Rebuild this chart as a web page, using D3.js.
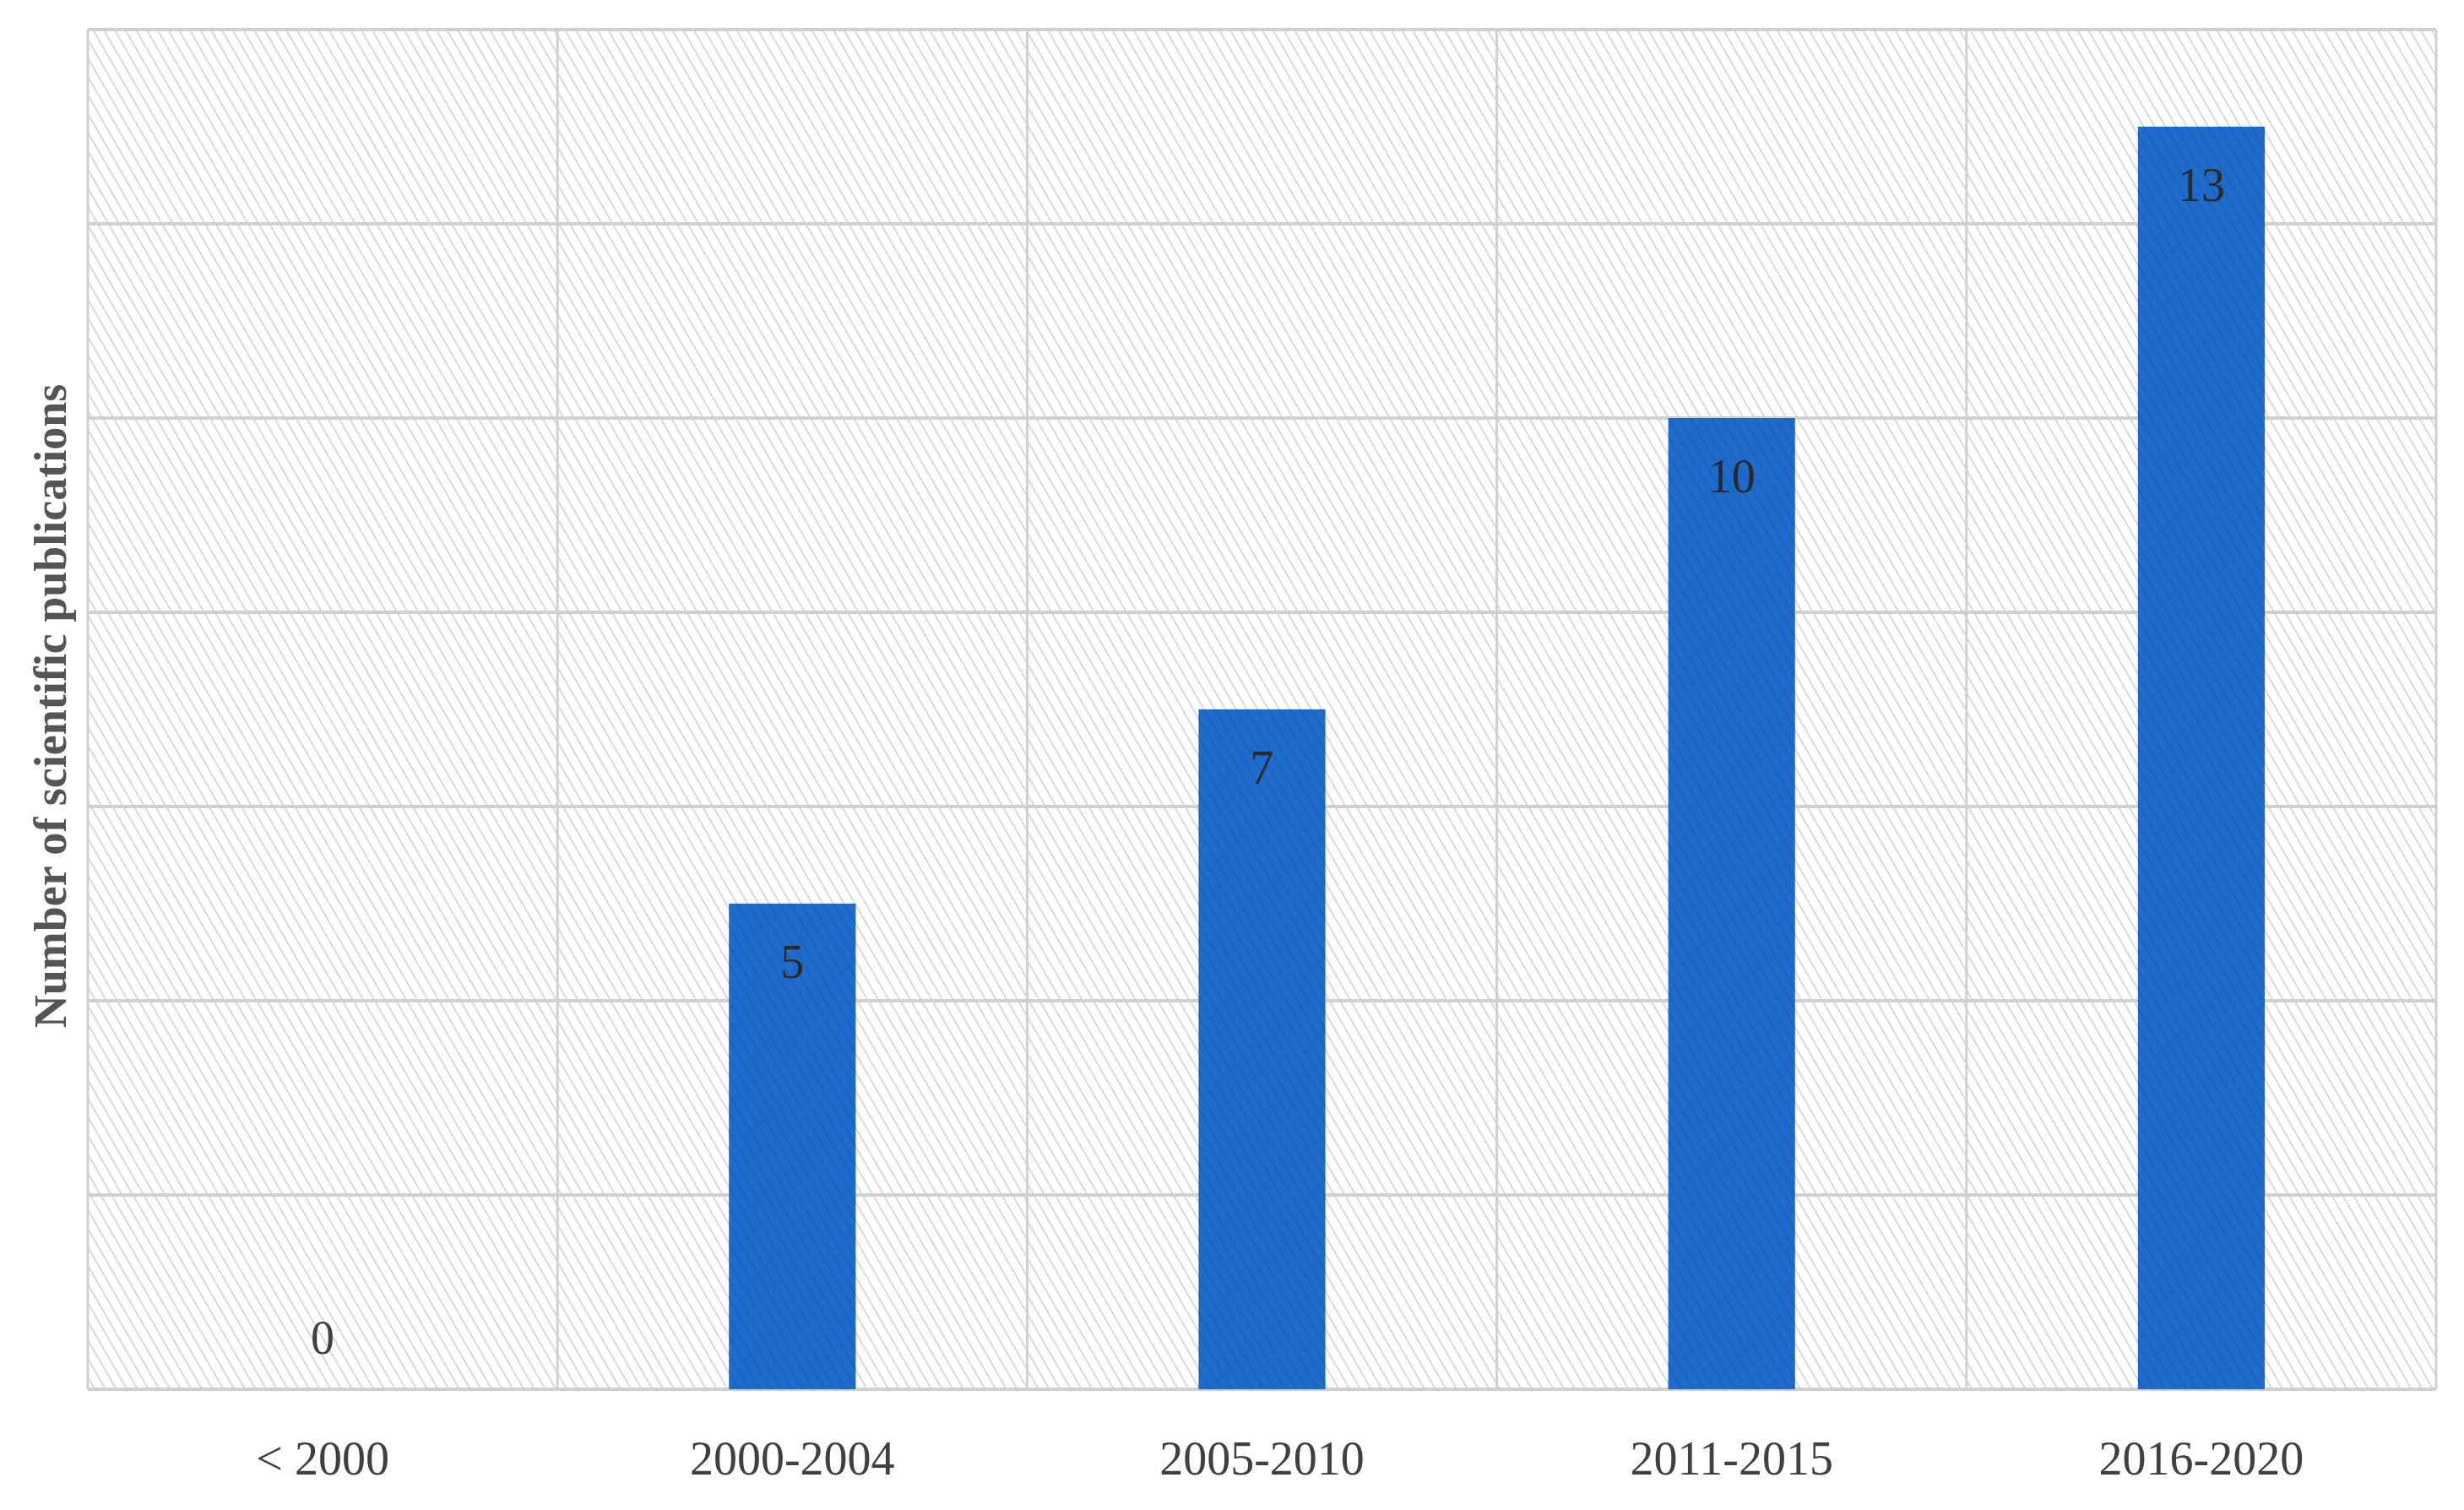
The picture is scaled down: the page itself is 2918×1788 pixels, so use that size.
<!DOCTYPE html>
<html>
<head>
<meta charset="utf-8">
<script src="https://cdn.jsdelivr.net/npm/d3@7"></script>
<style>
  body { margin: 0; background: #fff; }
  text { font-family: "Liberation Serif", "DejaVu Serif", serif; fill: #404040; }
</style>
</head>
<body>
<script>
// Publication counts per period
let categories = ['< 2000', '2000-2004', '2005-2010', '2011-2015', '2016-2020'];
let values = [0, 5, 7, 10, 13];
let yTicks = [0, 2, 4, 6, 8, 10, 12, 14];

let width = 2918;
let height = 1788;
let margin = {left: 104, right: 2918 - 2885, top: 35, bottom: 1788 - 1645};

let svg = d3.select('body').append('svg')
		.attr('width', width)
		.attr('height', height);

let defs = svg.append('defs');

// light diagonal hatch for the plot area
let hatch = defs.append('pattern')
		.attr('id', 'hatch')
		.attr('patternUnits', 'userSpaceOnUse')
		.attr('width', 11)
		.attr('height', 11)
		.attr('patternTransform', 'rotate(-30)');
hatch.append('rect').attr('width', 11).attr('height', 11).attr('fill', '#fff');
hatch.append('line')
		.attr('x1', 0).attr('y1', 0).attr('x2', 0).attr('y2', 11)
		.attr('stroke', '#c9cfcc').attr('stroke-width', 3);

// hatch over the blue bars
let barHatch = defs.append('pattern')
		.attr('id', 'barHatch')
		.attr('patternUnits', 'userSpaceOnUse')
		.attr('width', 11)
		.attr('height', 11)
		.attr('patternTransform', 'rotate(-30)');
barHatch.append('rect').attr('width', 11).attr('height', 11).attr('fill', '#1f6bcb');
barHatch.append('line')
		.attr('x1', 0).attr('y1', 0).attr('x2', 0).attr('y2', 11)
		.attr('stroke', '#1a5fb8').attr('stroke-width', 3);

let x = d3.scaleBand()
		.domain(categories)
		.range([margin.left, width - margin.right])
		.paddingInner(0.73)
		.paddingOuter(0.365);

let xCell = d3.scaleBand()
		.domain(categories)
		.range([margin.left, width - margin.right]);

let y = d3.scaleLinear()
		.domain([0, 14])
		.range([height - margin.bottom, margin.top]);

// plot background
svg.append('rect')
		.attr('x', margin.left)
		.attr('y', margin.top)
		.attr('width', width - margin.left - margin.right)
		.attr('height', height - margin.top - margin.bottom)
		.attr('fill', 'url(#hatch)');

// horizontal grid
svg.append('g')
		.selectAll('line')
		.data(yTicks)
		.enter()
		.append('line')
		.attr('x1', margin.left)
		.attr('x2', width - margin.right)
		.attr('y1', d => y(d))
		.attr('y2', d => y(d))
		.attr('stroke', '#cfd1d0')
		.attr('stroke-width', 4);

// vertical grid
let vLines = categories.map(c => xCell(c)).concat([width - margin.right]);
svg.append('g')
		.selectAll('line')
		.data(vLines)
		.enter()
		.append('line')
		.attr('x1', d => d)
		.attr('x2', d => d)
		.attr('y1', margin.top)
		.attr('y2', height - margin.bottom)
		.attr('stroke', '#cfd1d0')
		.attr('stroke-width', 3);

// bars
svg.append('g')
		.selectAll('rect')
		.data(values)
		.enter()
		.append('rect')
		.attr('x', (d, i) => x(categories[i]))
		.attr('y', d => y(d))
		.attr('width', x.bandwidth())
		.attr('height', d => y(0) - y(d))
		.attr('fill', 'url(#barHatch)');

// value labels (zero sits above the baseline)
svg.append('g')
		.selectAll('text')
		.data(values)
		.enter()
		.append('text')
		.attr('x', (d, i) => x(categories[i]) + x.bandwidth() / 2)
		.attr('y', d => d === 0 ? y(d) - 42 : y(d) + 88)
		.attr('text-anchor', 'middle')
		.style('font-size', '56px')
		.style('fill', d => d === 0 ? '#404040' : '#2a2a2a')
		.text(d => d);

// category labels
svg.append('g')
		.selectAll('text')
		.data(categories)
		.enter()
		.append('text')
		.attr('x', d => xCell(d) + xCell.bandwidth() / 2)
		.attr('y', 1746)
		.attr('text-anchor', 'middle')
		.style('font-size', '56px')
		.text(d => d);

// y axis title
svg.append('text')
		.attr('transform', `translate(78,${(margin.top + height - margin.bottom) / 2 - 4}) rotate(-90)`)
		.attr('text-anchor', 'middle')
		.style('font-size', '54px')
		.style('font-weight', 'bold')
		.style('fill', '#555')
		.text('Number of scientific publications');
</script>
</body>
</html>
